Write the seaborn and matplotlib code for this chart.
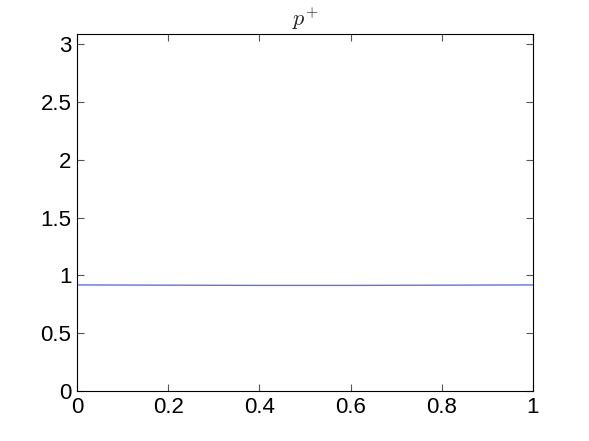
import matplotlib
matplotlib.use('Agg')
import matplotlib.pyplot as plt
import seaborn as sns
import pandas as pd

# values
x_vals = [0.0, 0.1, 0.2, 0.3, 0.4, 0.5, 0.6, 0.7, 0.8, 0.9, 1.0]
p_plus = [0.918, 0.917, 0.916, 0.915, 0.914, 0.914, 0.914, 0.915, 0.916, 0.917, 0.918]
x_ticks = [0, 0.2, 0.4, 0.6, 0.8, 1]
y_ticks = [0, 0.5, 1, 1.5, 2, 2.5, 3]
y_tick_labels = ['0', '0.5', '1', '1.5', '2', '2.5', '3']
x_tick_labels = ['0', '0.2', '0.4', '0.6', '0.8', '1']

sns.set_style('ticks')
plt.rcParams['font.family'] = ['Liberation Sans', 'DejaVu Sans']
plt.rcParams['mathtext.fontset'] = 'cm'

df = pd.DataFrame({'x': x_vals, 'p': p_plus})

fig = plt.figure(figsize=(5.89, 4.41), dpi=100)
ax = fig.add_axes([0.1307, 0.1134, 0.7742, 0.8095])

sns.lineplot(data=df, x='x', y='p', ax=ax, color='#5f70f2', linewidth=1.0)

ax.set_xlim(0, 1)
ax.set_ylim(0, 3.09)
ax.set_xticks(x_ticks)
ax.set_xticklabels(x_tick_labels)
ax.set_yticks(y_ticks)
ax.set_yticklabels(y_tick_labels)
ax.set_xlabel('')
ax.set_ylabel('')
ax.tick_params(direction='in', length=5, width=0.8, labelsize=16,
               top=True, right=True, colors='#555555', labelcolor='black', pad=4)
for s in ax.spines.values():
    s.set_visible(True)
    s.set_linewidth(0.8)
    s.set_color('black')

ax.set_title(r'$p^{+}$', fontsize=16, pad=6)

fig.savefig('out.png', dpi=100)
